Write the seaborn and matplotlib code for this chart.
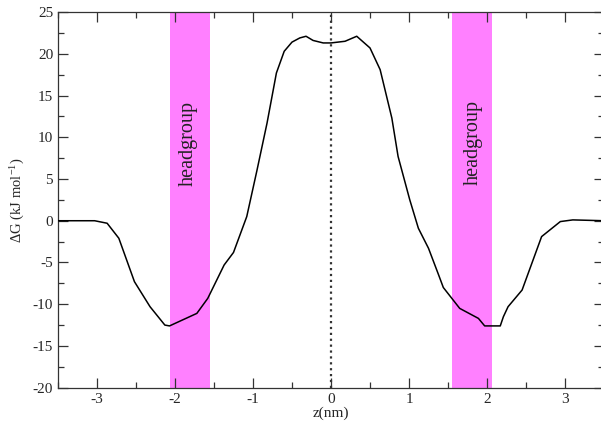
import matplotlib
matplotlib.use("Agg")
import matplotlib.pyplot as plt
from matplotlib.ticker import MultipleLocator
import seaborn as sns

# free energy profile
z_nm = [-3.5, -3.03, -2.87, -2.72, -2.52, -2.32, -2.13, -2.07, -1.72, -1.58,
        -1.37, -1.25, -1.08, -0.95, -0.82, -0.70, -0.60, -0.50, -0.40, -0.32,
        -0.23, -0.10, 0.0, 0.18, 0.33, 0.50, 0.63, 0.78, 0.86, 1.01, 1.12,
        1.25, 1.38, 1.44, 1.65, 1.89, 1.97, 2.17, 2.21, 2.27, 2.45, 2.70,
        2.94, 3.10, 3.5]
dG = [0.0, 0.0, -0.3, -2.1, -7.3, -10.3, -12.5, -12.6, -11.1, -9.3,
      -5.3, -3.8, 0.5, 6.0, 11.7, 17.7, 20.3, 21.4, 21.9, 22.1,
      21.6, 21.3, 21.3, 21.5, 22.1, 20.7, 18.1, 12.3, 7.7, 2.5, -0.9,
      -3.3, -6.5, -8.0, -10.5, -11.7, -12.6, -12.6, -11.5, -10.3, -8.3, -1.9,
      -0.1, 0.1, 0.0]

# headgroup regions (nm)
bands = [(-2.07, -1.55), (1.55, 2.07)]
band_labels = ["headgroup", "headgroup"]
band_label_pos = [(-1.83, 9.3), (1.82, 9.4)]

sns.set_style("ticks")
plt.rcParams['font.family'] = ['Liberation Serif', 'DejaVu Serif']
plt.rcParams['axes.unicode_minus'] = False
plt.rcParams['mathtext.fontset'] = 'custom'
plt.rcParams['mathtext.rm'] = 'Liberation Serif'
plt.rcParams['mathtext.it'] = 'Liberation Serif:italic'
plt.rcParams['mathtext.default'] = 'rm'

fig = plt.figure(figsize=(6.01, 4.23), dpi=100)
ax = fig.add_axes([0.0965, 0.0835, 0.9085, 0.888])

for (a, b), lab, (tx, ty) in zip(bands, band_labels, band_label_pos):
    ax.axvspan(a, b, color='#ff80ff', lw=0, zorder=0)
    ax.text(tx, ty, lab, rotation=90, ha='center', va='center', fontsize=14.5, color='#222222')

ax.axvline(0, color='#333333', ls=':', lw=1.6, zorder=1)
sns.lineplot(x=z_nm, y=dG, color='black', lw=1.1, ax=ax, zorder=3)

ax.set_xlim(-3.5, 3.5)
ax.set_ylim(-20, 25)
ax.xaxis.set_major_locator(MultipleLocator(1))
ax.xaxis.set_minor_locator(MultipleLocator(0.5))
ax.yaxis.set_major_locator(MultipleLocator(5))
ax.yaxis.set_minor_locator(MultipleLocator(2.5))
ax.tick_params(which='both', direction='in', top=True, right=True, color='#333333', width=0.9, labelsize=11)
ax.tick_params(which='major', length=7)
ax.tick_params(which='minor', length=4)
for s in ax.spines.values():
    s.set_color('#333333')
    s.set_linewidth(0.9)

ax.set_xlabel('z(nm)', fontsize=11, labelpad=1)
ax.set_ylabel('ΔG (kJ mol$^{-1}$)', fontsize=10.5, labelpad=4)

fig.savefig('out.png', dpi=100)
